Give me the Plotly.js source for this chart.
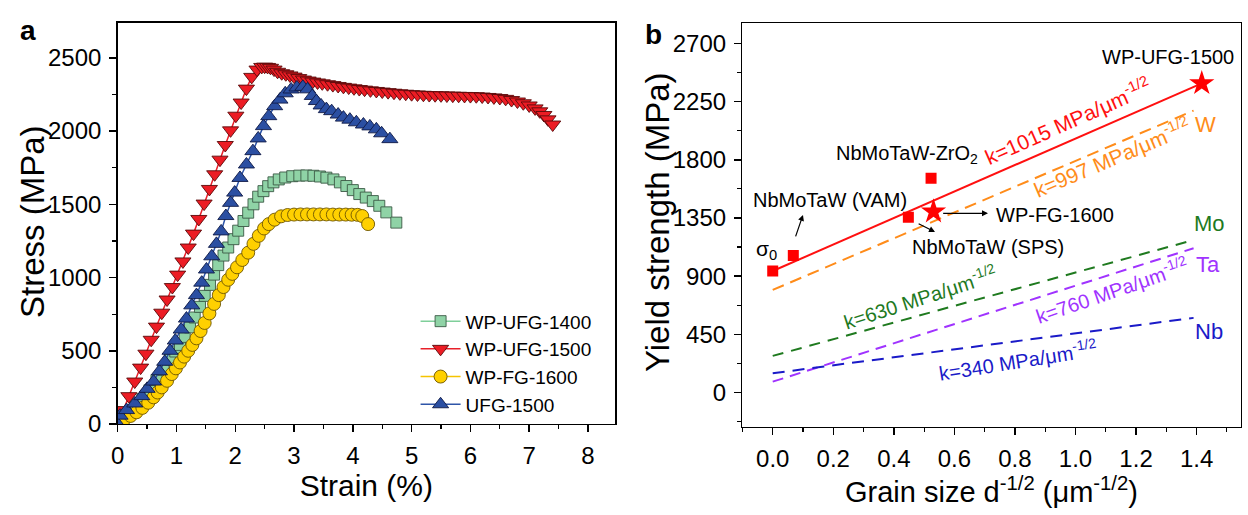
<!DOCTYPE html>
<html><head><meta charset="utf-8">
<script src="https://cdn.plot.ly/plotly-3.0.1.min.js"></script>
<style>html,body{margin:0;padding:0;background:#fff}#chart{width:1248px;height:515px}</style>
</head><body><div id="chart"></div>
<script>
// ---------- Panel a: stress-strain curves ----------
const seriesNames = ['WP-UFG-1400', 'WP-UFG-1500', 'WP-FG-1600', 'UFG-1500'];

const ufg1400Strain = [0.00,0.06,0.18,0.30,0.42,0.54,0.66,0.78,0.89,0.98,1.06,1.14,1.23,1.31,1.40,1.48,1.57,1.64,1.71,1.80,1.88,1.97,2.05,2.14,2.22,2.31,2.39,2.48,2.56,2.65,2.74,2.85,2.97,3.09,3.21,3.33,3.44,3.55,3.67,3.78,3.89,4.00,4.11,4.22,4.34,4.45,4.57,4.74];
const ufg1400Stress = [0,20,65,115,170,230,300,370,440,495,540,595,660,727,800,875,950,1020,1085,1150,1205,1262,1320,1386,1443,1500,1552,1590,1624,1650,1670,1683,1692,1696,1697,1695,1690,1682,1670,1650,1625,1597,1570,1546,1522,1490,1445,1375];

const ufg1500Strain = [0.00,0.09,0.19,0.29,0.39,0.48,0.57,0.66,0.75,0.84,0.93,1.02,1.11,1.20,1.29,1.38,1.47,1.56,1.65,1.74,1.83,1.92,2.01,2.10,2.19,2.28,2.37,2.45,2.50,2.55,2.60,2.66,2.72,2.79,2.86,2.93,3.00,3.08,3.16,3.24,3.32,3.40,3.48,3.57,3.66,3.75,3.84,3.93,4.02,4.11,4.20,4.30,4.40,4.50,4.60,4.70,4.80,4.90,5.00,5.10,5.20,5.30,5.40,5.50,5.60,5.70,5.80,5.90,6.00,6.10,6.20,6.30,6.40,6.50,6.60,6.70,6.80,6.90,7.00,7.10,7.18,7.25,7.32,7.40];
const ufg1500Stress = [0,95,190,290,385,480,575,665,760,850,935,1020,1110,1205,1300,1400,1505,1605,1705,1805,1905,2005,2105,2195,2290,2370,2420,2438,2440,2438,2432,2420,2405,2395,2388,2380,2372,2362,2352,2345,2338,2332,2326,2320,2314,2308,2302,2297,2292,2287,2283,2278,2274,2270,2266,2262,2258,2255,2252,2250,2248,2246,2245,2244,2243,2242,2241,2240,2239,2238,2236,2233,2230,2226,2220,2212,2202,2190,2175,2155,2135,2110,2080,2045];

const fg1600Strain = [0.00,0.12,0.22,0.32,0.42,0.52,0.61,0.68,0.75,0.84,0.92,0.99,1.06,1.13,1.20,1.27,1.34,1.41,1.48,1.56,1.64,1.72,1.80,1.88,1.95,2.03,2.12,2.22,2.31,2.40,2.49,2.57,2.67,2.78,2.89,3.00,3.11,3.22,3.33,3.44,3.55,3.66,3.77,3.88,3.98,4.08,4.16,4.26];
const fg1600Stress = [0,34,55,80,110,145,182,215,250,295,341,380,420,460,500,540,585,635,690,755,820,880,935,985,1025,1070,1120,1170,1230,1285,1335,1365,1395,1418,1427,1430,1431,1431,1431,1431,1431,1430,1430,1430,1429,1428,1420,1365];

const ufgStrain = [0.00,0.04,0.15,0.29,0.41,0.50,0.61,0.71,0.80,0.89,0.98,1.08,1.17,1.26,1.34,1.43,1.51,1.60,1.68,1.76,1.84,1.92,1.99,2.08,2.19,2.30,2.39,2.48,2.57,2.67,2.76,2.85,2.95,3.05,3.15,3.23,3.31,3.38,3.46,3.55,3.64,3.75,3.84,3.95,4.06,4.18,4.29,4.40,4.49,4.63];
const ufgStress = [0,57,95,140,190,240,290,360,425,500,570,645,720,810,880,965,1055,1145,1230,1315,1420,1510,1580,1680,1772,1863,1950,2034,2102,2170,2215,2258,2284,2298,2302,2285,2240,2205,2175,2150,2136,2113,2092,2078,2060,2045,2032,2012,1985,1945];

// ---------- Panel b: Hall-Petch ----------
const expName = ['σ0', 'NbMoTaW (VAM)', 'NbMoTaW (SPS)', 'NbMoTaW-ZrO2'];
const expX = [0.000, 0.068, 0.448, 0.523];
const expY = [940, 1060, 1355, 1657];
const starName = ['WP-FG-1600', 'WP-UFG-1500'];
const starX = [0.531, 1.417];
const starY = [1399, 2391];

const fitX = [0, 1.417];
const fitY = [940, 2391];

const elemNames = ['W', 'Mo', 'Ta', 'Nb'];
const elemK = [997, 630, 760, 340];
const elemX = [0, 1.39];
const wY = [794, 2180];
const moY = [284, 1180];
const taY = [85, 1116];
const nbY = [150, 578];

const axisTitles = ['Strain (%)', 'Stress (MPa)', 'Grain size d<sup>-1/2</sup> (μm<sup>-1/2</sup>)', 'Yield strength (MPa)'];

const FONT = 'Arial, Liberation Sans, sans-serif';

const traces = [
  {x: ufg1400Strain, y: ufg1400Stress, name: seriesNames[0], type: 'scatter', mode: 'lines+markers',
   line: {color: '#7fcf9a', width: 1.5}, marker: {symbol: 'square', size: 11, color: '#8fd3a6', line: {color: 'rgba(60,90,70,0.9)', width: 1}}, xaxis: 'x', yaxis: 'y'},
  {x: ufg1500Strain, y: ufg1500Stress, name: seriesNames[1], type: 'scatter', mode: 'lines+markers',
   line: {color: '#e8202a', width: 1.5}, marker: {symbol: 'triangle-down', size: 14, color: '#ec1c24', line: {color: 'rgba(90,10,10,0.9)', width: 1}}, xaxis: 'x', yaxis: 'y'},
  {x: fg1600Strain, y: fg1600Stress, name: seriesNames[2], type: 'scatter', mode: 'lines+markers',
   line: {color: '#f5c400', width: 1.5}, marker: {symbol: 'circle', size: 13, color: '#ffd000', line: {color: 'rgba(110,85,0,0.9)', width: 1}}, xaxis: 'x', yaxis: 'y'},
  {x: ufgStrain, y: ufgStress, name: seriesNames[3], type: 'scatter', mode: 'lines+markers',
   line: {color: '#2e55a8', width: 1.5}, marker: {symbol: 'triangle-up', size: 14, color: '#2b4fa2', line: {color: 'rgba(15,25,70,0.9)', width: 1}}, xaxis: 'x', yaxis: 'y'},

  {x: elemX, y: wY, type: 'scatter', mode: 'lines', line: {color: '#ff8c1a', width: 2, dash: '12px,7px'}, showlegend: false, xaxis: 'x2', yaxis: 'y2'},
  {x: elemX, y: moY, type: 'scatter', mode: 'lines', line: {color: '#1f7a1f', width: 2, dash: '11px,8px'}, showlegend: false, xaxis: 'x2', yaxis: 'y2'},
  {x: elemX, y: taY, type: 'scatter', mode: 'lines', line: {color: '#a033ff', width: 2, dash: '11px,7px'}, showlegend: false, xaxis: 'x2', yaxis: 'y2'},
  {x: elemX, y: nbY, type: 'scatter', mode: 'lines', line: {color: '#1a1ac8', width: 2, dash: '12px,8px'}, showlegend: false, xaxis: 'x2', yaxis: 'y2'},
  {x: fitX, y: fitY, type: 'scatter', mode: 'lines', line: {color: '#ff1010', width: 2}, showlegend: false, xaxis: 'x2', yaxis: 'y2'},
  {x: expX, y: expY, text: expName, type: 'scatter', mode: 'markers', marker: {symbol: 'square', size: 11, color: '#ff0000'}, showlegend: false, xaxis: 'x2', yaxis: 'y2'},
  {x: starX, y: starY, text: starName, type: 'scatter', mode: 'markers', marker: {symbol: 'star', size: 19, color: '#ff0000'}, showlegend: false, xaxis: 'x2', yaxis: 'y2'}
];

const axBase = {showgrid: false, zeroline: false, showline: true, linecolor: '#000', linewidth: 1.5, mirror: true,
  ticks: 'outside', ticklen: 7, tickwidth: 1.5, tickcolor: '#000', ticklabelstandoff: 3,
  tickfont: {family: FONT, size: 24, color: '#000'}};

function ann(x, y, text, color, size, angle) {
  return {x: x, y: y, xref: 'x2', yref: 'y2', text: text, showarrow: false, xanchor: 'center', yanchor: 'middle',
    font: {family: FONT, size: size, color: color}, textangle: angle || 0};
}
function paperAnn(px, py, text, size, angle) {
  return {x: px / 1248, y: 1 - py / 515, xref: 'paper', yref: 'paper', xanchor: 'center', yanchor: 'middle',
    text: text, showarrow: false, textangle: angle || 0, font: {family: FONT, size: size, color: '#000'}};
}
function arrow(x, y, ax, ay) {
  return {x: x, y: y, ax: ax, ay: ay, xref: 'x2', yref: 'y2', axref: 'x2', ayref: 'y2', text: '', showarrow: true,
    arrowhead: 2, arrowsize: 1, arrowwidth: 1.2, arrowcolor: '#000'};
}
const sup = '<sup>-1/2</sup>';

const layout = {
  width: 1248, height: 515, margin: {l: 0, r: 0, t: 0, b: 0},
  paper_bgcolor: '#fff', plot_bgcolor: '#fff',
  font: {family: FONT, color: '#000'},
  showlegend: true,
  legend: {x: 0.333, y: 0.413, xanchor: 'left', yanchor: 'top', bgcolor: 'rgba(0,0,0,0)', font: {family: FONT, size: 19, color: '#000'}, tracegroupgap: 0, itemwidth: 40},
  xaxis: Object.assign({}, axBase, {domain: [0.0943, 0.4928], range: [0, 8.46], tick0: 0, dtick: 1,
    minor: {dtick: 0.5, ticks: 'outside', ticklen: 4, tickwidth: 1.2, tickcolor: '#000'},
    title: {text: axisTitles[0], font: {family: FONT, size: 30, color: '#000'}, standoff: 3}, anchor: 'y'}),
  yaxis: Object.assign({}, axBase, {domain: [0.1767, 0.9559], range: [0, 2740], tick0: 0, dtick: 500,
    minor: {dtick: 250, ticks: 'outside', ticklen: 4, tickwidth: 1.2, tickcolor: '#000'}, anchor: 'x'}),
  xaxis2: Object.assign({}, axBase, {domain: [0.5949, 0.9940], range: [-0.1, 1.545], tick0: 0, dtick: 0.2, tickformat: '.1f',
    minor: {dtick: 0.1, ticks: 'outside', ticklen: 4, tickwidth: 1.2, tickcolor: '#000'},
    title: {text: axisTitles[2], font: {family: FONT, size: 29, color: '#000'}, standoff: 5}, anchor: 'y2'}),
  yaxis2: Object.assign({}, axBase, {domain: [0.1715, 0.9548], range: [-263, 2855], tick0: 0, dtick: 450,
    minor: {dtick: 225, ticks: 'outside', ticklen: 4, tickwidth: 1.2, tickcolor: '#000'}, anchor: 'x2'}),
  annotations: [
    paperAnn(32, 222, axisTitles[1], 33, -90),
    paperAnn(657, 222, axisTitles[3], 33, -90),
    paperAnn(27.5, 31, '<b>a</b>', 28),
    paperAnn(653, 35, '<b>b</b>', 28),
    ann(1.306, 2594, starName[1], '#000', 20),
    ann(0.972, 2100, 'k=1015 MPa/μm' + sup, '#ff1010', 21, -24),
    ann(1.121, 1821, 'k=' + elemK[0] + ' MPa/μm' + sup, '#ff8c1a', 21, -23),
    ann(0.487, 747, 'k=' + elemK[1] + ' MPa/μm' + sup, '#1f7a1f', 20, -18),
    ann(1.121, 794, 'k=' + elemK[2] + ' MPa/μm' + sup, '#a033ff', 20, -19),
    ann(0.81, 253, 'k=' + elemK[3] + ' MPa/μm' + sup, '#1a1ac8', 20, -9),
    ann(1.431, 2069, elemNames[0], '#ff8c1a', 22),
    ann(1.444, 1311, elemNames[1], '#1f7a1f', 22),
    ann(1.437, 987, elemNames[2], '#a033ff', 22),
    ann(1.441, 469, elemNames[3], '#1a1ac8', 22),
    ann(0.444, 1837, 'NbMoTaW-ZrO<sub>2</sub>', '#000', 20),
    ann(0.189, 1487, expName[1], '#000', 20),
    ann(-0.022, 1103, 'σ<sub>0</sub>', '#000', 21),
    ann(0.711, 1126, expName[2], '#000', 20),
    ann(0.933, 1373, starName[0], '#000', 20),
    arrow(0.100, 1374, 0.074, 1196),
    arrow(0.536, 1242, 0.477, 1311),
    arrow(0.711, 1386, 0.558, 1386)
  ]
};

Plotly.newPlot('chart', traces, layout, {staticPlot: true, displayModeBar: false});
</script></body></html>
